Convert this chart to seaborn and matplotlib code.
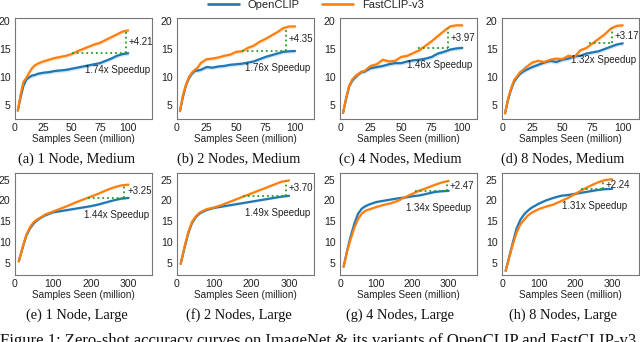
"""Zero-shot accuracy curves, OpenCLIP vs FastCLIP-v3 (8 panels)."""
import matplotlib
matplotlib.use("Agg")

import numpy as np
import pandas as pd
import matplotlib.pyplot as plt
from matplotlib.lines import Line2D
import seaborn as sns

BLUE = "#1f77b4"
ORANGE = "#ff7f0e"
GREEN = "#22a022"

X_MED = [2.5, 5, 7.5, 10, 12.5, 15, 17.5, 20, 25, 30, 35, 40, 45, 50,
         55, 60, 65, 70, 75, 80, 85, 90, 95, 100]
X_LRG = [10, 20, 30, 40, 50, 60, 70, 80, 100, 120, 140, 160, 180, 200,
         220, 240, 260, 280, 300]

# (a) 1 Node, Medium
A_OPEN = [4.1, 6.5, 8.5, 9.6, 10.0, 10.3, 10.4, 10.6, 10.8, 10.9, 11.1, 11.2,
          11.3, 11.5, 11.7, 11.9, 12.1, 12.3, 12.5, 12.9, 13.3, 13.8, 14.1, 14.25]
A_FAST = [4.1, 7.0, 9.2, 9.9, 10.8, 11.6, 12.1, 12.4, 12.8, 13.1, 13.4, 13.6,
          13.8, 14.1, 14.6, 15.0, 15.4, 15.8, 16.1, 16.6, 17.1, 17.6, 18.1, 18.3]
# (b) 2 Nodes, Medium
B_OPEN = [4.0, 6.5, 8.5, 9.8, 10.6, 11.1, 11.2, 11.3, 11.8, 11.7, 11.9, 12.0,
          12.2, 12.3, 12.4, 12.6, 12.8, 13.2, 13.6, 13.9, 14.2, 14.5, 14.6, 14.65]
B_FAST = [4.0, 6.8, 8.6, 10.0, 10.8, 11.3, 11.7, 12.5, 13.2, 13.3, 13.5, 13.8,
          14.0, 14.5, 14.6, 15.2, 15.6, 16.3, 16.8, 17.4, 18.0, 18.7, 19.0, 19.0]
# (c) 4 Nodes, Medium
C_OPEN = [3.7, 6.2, 8.4, 9.4, 10.0, 10.5, 10.9, 11.0, 11.6, 11.8, 12.0, 12.3,
          12.5, 12.5, 12.8, 13.0, 13.1, 13.3, 13.6, 14.2, 14.5, 14.9, 15.1, 15.2]
C_FAST = [3.7, 6.3, 8.5, 9.6, 10.2, 10.6, 11.0, 11.1, 12.0, 12.3, 13.1, 12.8,
          12.9, 13.6, 13.8, 14.3, 14.8, 15.6, 16.4, 17.3, 18.2, 19.0, 19.2, 19.2]
# (d) 8 Nodes, Medium
D_OPEN = [3.6, 6.0, 7.8, 9.2, 10.0, 10.6, 11.0, 11.3, 11.8, 12.2, 12.6, 12.9,
          12.7, 13.1, 13.3, 13.7, 13.8, 14.2, 14.4, 14.6, 15.0, 15.4, 15.8, 16.0]
D_FAST = [3.6, 6.2, 8.0, 9.5, 10.2, 10.9, 11.3, 11.8, 12.6, 12.9, 12.7, 13.1,
          13.3, 13.2, 13.8, 13.6, 14.8, 15.2, 16.0, 16.8, 17.6, 18.6, 19.1, 19.2]
# (e) 1 Node, Large
E_OPEN = [5.3, 8.5, 11.5, 13.3, 14.5, 15.3, 15.9, 16.4, 17.1, 17.4, 17.7, 18.0,
          18.3, 18.6, 19.0, 19.5, 20.0, 20.4, 20.6]
E_FAST = [5.3, 8.7, 11.7, 13.6, 14.8, 15.5, 16.0, 16.6, 17.3, 18.0, 18.7, 19.5,
          20.2, 20.9, 21.6, 22.4, 23.1, 23.6, 23.8]
# (f) 2 Nodes, Large
F_OPEN = [4.7, 8.5, 12.0, 14.5, 15.9, 16.8, 17.3, 17.7, 18.2, 18.5, 18.8, 19.1,
          19.4, 19.7, 20.0, 20.3, 20.6, 20.9, 21.1]
F_FAST = [4.7, 8.8, 12.3, 14.8, 16.1, 17.0, 17.5, 17.9, 18.3, 18.9, 19.6, 20.3,
          21.0, 21.7, 22.4, 23.1, 23.8, 24.5, 24.8]
# (g) 4 Nodes, Large
G_OPEN = [4.0, 8.0, 11.5, 14.5, 16.8, 18.0, 18.6, 19.0, 19.6, 19.9, 20.2, 20.5,
          20.7, 21.0, 21.2, 21.6, 22.0, 22.2, 22.3]
G_FAST = [4.0, 7.8, 10.8, 13.5, 15.5, 16.8, 17.5, 17.8, 18.4, 18.9, 19.3, 19.9,
          20.8, 21.6, 22.4, 23.0, 23.7, 24.3, 24.7]
# (h) 8 Nodes, Large
H_OPEN = [3.0, 6.5, 10.0, 13.3, 15.3, 16.6, 17.5, 18.2, 19.2, 20.0, 20.6, 21.1,
          21.3, 21.6, 21.9, 22.2, 22.5, 22.7, 22.8]
H_FAST = [3.0, 6.3, 9.5, 12.3, 14.2, 15.3, 16.3, 17.0, 17.9, 18.5, 19.0, 19.8,
          20.6, 21.6, 22.6, 23.5, 24.3, 24.9, 25.1]

CAPTIONS = ["(a) 1 Node, Medium", "(b) 2 Nodes, Medium", "(c) 4 Nodes, Medium",
            "(d) 8 Nodes, Medium", "(e) 1 Node, Large", "(f) 2 Nodes, Large",
            "(g) 4 Nodes, Large", "(h) 8 Nodes, Large"]
GAINS = ["+4.21", "+4.35", "+3.97", "+3.17", "+3.25", "+3.70", "+2.47", "+2.24"]
SPEEDUPS = ["1.74x Speedup", "1.76x Speedup", "1.46x Speedup", "1.32x Speedup",
            "1.44x Speedup", "1.49x Speedup", "1.34x Speedup", "1.31x Speedup"]
HLINE_START = [50, 55, 64, 72, 194, 176, 206, 214]
VLINE_X = [98, 92, 88, 91, 289, 292, 294, 275]
XMAX = [121, 116, 112, 113.5, 362, 367, 378, 373]

OPEN = [A_OPEN, B_OPEN, C_OPEN, D_OPEN, E_OPEN, F_OPEN, G_OPEN, H_OPEN]
FAST = [A_FAST, B_FAST, C_FAST, D_FAST, E_FAST, F_FAST, G_FAST, H_FAST]

W, H = 640, 342
SANS = ["Liberation Sans", "DejaVu Sans"]
SERIF = ["Liberation Serif", "DejaVu Serif"]
INK = "#222222"


def draw_panel(ax, i):
    x = X_MED if i < 4 else X_LRG
    df = pd.DataFrame({"x": x + x,
                       "acc": OPEN[i] + FAST[i],
                       "method": ["OpenCLIP"] * len(x) + ["FastCLIP-v3"] * len(x)})
    band = 0.35 if i < 4 else 0.25
    for name, col in [("OpenCLIP", BLUE), ("FastCLIP-v3", ORANGE)]:
        sub = df[df["method"] == name]
        ax.fill_between(sub["x"], sub["acc"] - band, sub["acc"] + band,
                        color=col, alpha=0.18, lw=0)
    sns.lineplot(data=df, x="x", y="acc", hue="method",
                 palette={"OpenCLIP": BLUE, "FastCLIP-v3": ORANGE},
                 linewidth=1.6, ax=ax, legend=False)

    base = OPEN[i][-1]
    xv = VLINE_X[i]
    top = float(np.interp(xv, x, FAST[i]))
    ax.plot([HLINE_START[i], xv], [base, base], color=GREEN, ls=":", lw=1.3)
    ax.plot([xv, xv], [base, top], color=GREEN, ls=":", lw=1.3)
    ax.annotate(GAINS[i], (xv, (base + top) / 2), xytext=(3, 0),
                textcoords="offset pixels", ha="left", va="center",
                fontsize=7, color=INK, family=SANS)
    ax.annotate(SPEEDUPS[i], (xv, base), xytext=(-8, -17),
                textcoords="offset pixels", ha="center", va="center",
                fontsize=7, color=INK, family=SANS)

    ax.set_xlim(0, XMAX[i])
    if i < 4:
        ax.set_ylim(2.6, 20.5)
        ax.set_xticks([0, 25, 50, 75, 100])
        ax.set_yticks([5, 10, 15, 20])
    else:
        ax.set_ylim(2.0, 26.6)
        ax.set_xticks([0, 100, 200, 300])
        ax.set_yticks([5, 10, 15, 20, 25])
    ax.set_xlabel("Samples Seen (million)", fontsize=7.2, labelpad=0.5,
                  family=SANS, color=INK)
    ax.set_ylabel("")
    ax.tick_params(labelsize=7.6, length=2, width=0.6, pad=1.2,
                   colors="#555555", labelcolor=INK)
    for lab in ax.get_xticklabels() + ax.get_yticklabels():
        lab.set_family(SANS)
    for sp in ax.spines.values():
        sp.set_color("#777777")
        sp.set_linewidth(0.8)


def main():
    sns.set_style("white")
    plt.rcParams["font.family"] = SANS
    fig = plt.figure(figsize=(W / 100, H / 100), dpi=100)

    lefts = [15, 177, 340, 502]
    cap_x = [77, 238.5, 400.5, 563]
    for i in range(8):
        row = i // 4
        col = i % 4
        top_px, bot_px = (18, 119) if row == 0 else (173, 275)
        ax = fig.add_axes([lefts[col] / W, 1 - bot_px / H,
                           137 / W, (bot_px - top_px) / H])
        draw_panel(ax, i)
        cy = 159 if row == 0 else 315
        fig.text(cap_x[col] / W, 1 - cy / H, CAPTIONS[i], ha="center",
                 va="center", fontsize=10.4, family=SERIF, color="#111111")

    handles = [Line2D([], [], color=BLUE, lw=1.9),
               Line2D([], [], color=ORANGE, lw=1.9)]
    fig.legend(handles, ["OpenCLIP", "FastCLIP-v3"], loc="center",
               bbox_to_anchor=(316 / W, 1 - 5 / H), ncol=2, frameon=False,
               fontsize=8, handlelength=2.8, columnspacing=2.0,
               handletextpad=0.8, borderpad=0)

    fig.text(0.0, 1 - 333 / H,
             "Figure 1: Zero-shot accuracy curves on ImageNet & its variants "
             "of OpenCLIP and FastCLIP-v3",
             ha="left", va="top", fontsize=12, family=SERIF, color="#111111")

    fig.savefig("out.png", dpi=100)
    plt.close("all")


if __name__ == "__main__":
    main()
